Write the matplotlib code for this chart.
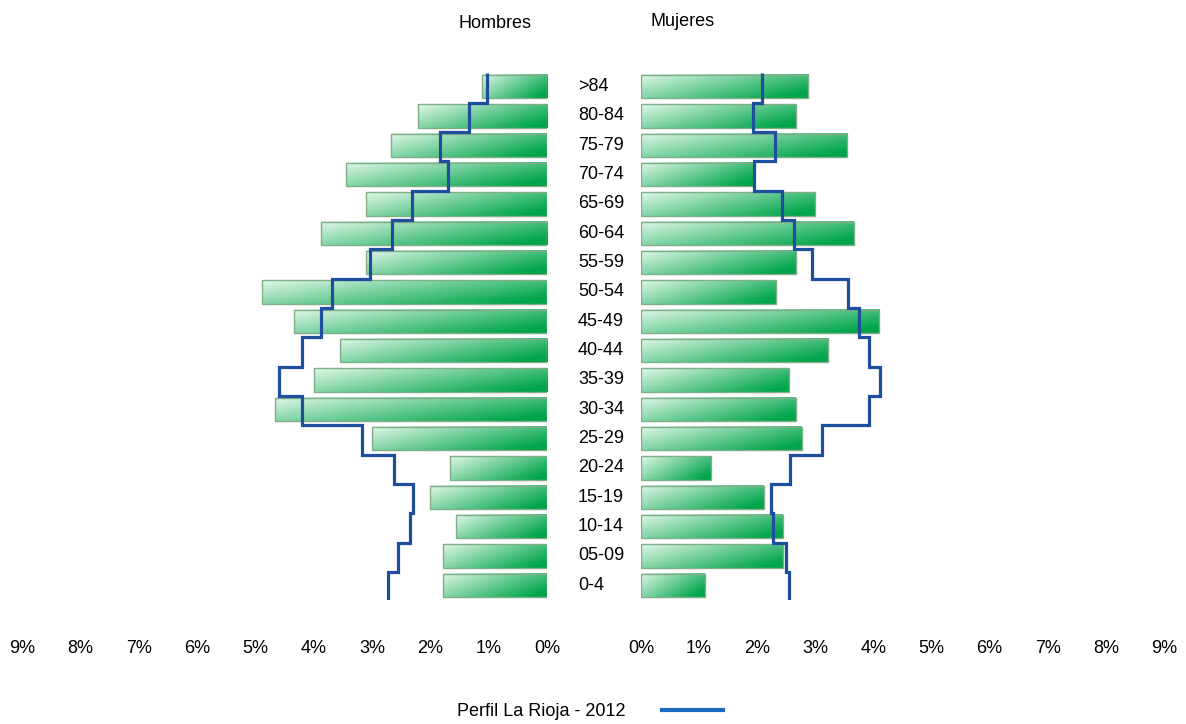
import numpy as np
import matplotlib
matplotlib.use("Agg")
import matplotlib.pyplot as plt
from matplotlib.lines import Line2D

plt.rcParams['font.family'] = ['Liberation Sans Narrow', 'Liberation Sans', 'DejaVu Sans']

# age groups, bottom to top
edades = ['0-4', '05-09', '10-14', '15-19', '20-24', '25-29', '30-34', '35-39', '40-44',
          '45-49', '50-54', '55-59', '60-64', '65-69', '70-74', '75-79', '80-84', '>84']
hombres = [1.78, 1.78, 1.56, 2.00, 1.66, 3.00, 4.66, 4.00, 3.55,
           4.33, 4.88, 3.10, 3.88, 3.10, 3.44, 2.67, 2.22, 1.12]
mujeres = [1.10, 2.44, 2.44, 2.11, 1.21, 2.77, 2.66, 2.55, 3.22,
           4.10, 2.32, 2.66, 3.66, 2.99, 1.95, 3.55, 2.66, 2.88]
rioja_h = [2.72, 2.56, 2.35, 2.29, 2.62, 3.17, 4.20, 4.60, 4.20,
           3.88, 3.68, 3.04, 2.66, 2.31, 1.69, 1.83, 1.34, 1.03]
rioja_m = [2.54, 2.50, 2.27, 2.23, 2.57, 3.11, 3.92, 4.11, 3.92,
           3.75, 3.57, 2.95, 2.63, 2.43, 1.94, 2.31, 1.93, 2.09]
pct_ticks = list(range(10))

fig = plt.figure(figsize=(11.86, 7.24), dpi=100)
bottom = 1 - 600 / 724
height = (600 - 72) / 724
ax_h = fig.add_axes([22 / 1186, bottom, (547 - 22) / 1186, height])
ax_m = fig.add_axes([641 / 1186, bottom, (1164 - 641) / 1186, height])

# diagonal green gradient (light top-left -> dark bottom-right)
gx, gy = np.meshgrid(np.linspace(0, 1, 120), np.linspace(0, 1, 20))
t = np.clip(0.7 * gx + 0.4 * gy, 0, 1)
light = np.array([225, 247, 232]) / 255
dark = np.array([0, 165, 75]) / 255
grad = light[None, None, :] * (1 - t[..., None]) + dark[None, None, :] * t[..., None]

y = np.arange(len(edades))
bh = 0.79


def draw_side(ax, vals, perfil, left_side):
    for yi, v in zip(y, vals):
        ext = (v, 0, yi - bh / 2, yi + bh / 2) if left_side else (0, v, yi - bh / 2, yi + bh / 2)
        ax.imshow(grad, extent=ext, aspect='auto', origin='upper', zorder=1, interpolation='bilinear')
    ax.barh(y, vals, height=bh, facecolor='none', edgecolor='#7fae87', linewidth=1.0, zorder=2)
    ax.stairs(perfil, np.arange(len(edades) + 1) - 0.55, orientation='horizontal',
              baseline=None, color='#1d4f9e', linewidth=2.3, zorder=3)
    ax.set_xlim(9, 0) if left_side else ax.set_xlim(0, 9)
    ax.set_ylim(-0.5, 17.5)
    ax.set_xticks(pct_ticks)
    ax.set_xticklabels([f'{p}%' for p in pct_ticks], fontsize=13)
    ax.tick_params(axis='x', length=0, pad=29)
    ax.set_yticks([])
    for s in ax.spines.values():
        s.set_visible(False)


draw_side(ax_h, hombres, rioja_h, True)
draw_side(ax_m, mujeres, rioja_m, False)

for yi, lab in zip(y, edades):
    fig.text(578 / 1186, ax_h.transData.transform((0, yi))[1] / 724, lab,
             ha='left', va='center', fontsize=13)

fig.text(495 / 1186, 1 - 24 / 724, 'Hombres', ha='center', va='center', fontsize=13)
fig.text(683 / 1186, 1 - 22 / 724, 'Mujeres', ha='center', va='center', fontsize=13)

fig.legend(handles=[Line2D([], [], color='#1a6bc0', linewidth=3)],
           labels=['Perfil La Rioja - 2012'], markerfirst=False, frameon=False,
           loc='center', bbox_to_anchor=(590 / 1186, 1 - 712 / 724),
           handlelength=3.4, handletextpad=2.0, fontsize=13)

fig.savefig('out.png', dpi=100)
